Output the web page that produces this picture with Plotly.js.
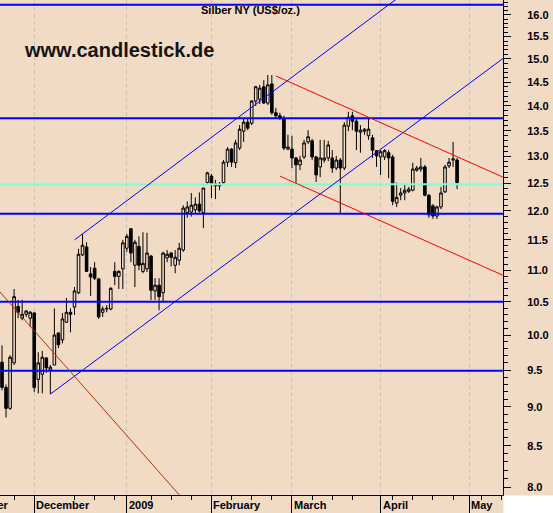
<!DOCTYPE html>
<html>
<head>
<meta charset="utf-8">
<script src="https://cdn.plot.ly/plotly-3.0.1.min.js"></script>
<style>
html,body{margin:0;padding:0;background:#ffffff;}
#chart{width:553px;height:513px;}
</style>
</head>
<body>
<div id="chart"></div>
<script>
// ---- data: Silber NY (US$/oz.), daily candles ----
const dates = [
'2008-11-19','2008-11-20','2008-11-21','2008-11-24','2008-11-25','2008-11-26','2008-11-27','2008-11-28',
'2008-12-01','2008-12-02','2008-12-03','2008-12-04','2008-12-05','2008-12-08','2008-12-09','2008-12-10','2008-12-11','2008-12-12',
'2008-12-15','2008-12-16','2008-12-17','2008-12-18','2008-12-19','2008-12-22','2008-12-23','2008-12-24','2008-12-25','2008-12-26',
'2008-12-29','2008-12-30','2008-12-31',
'2009-01-02','2009-01-05','2009-01-06','2009-01-07','2009-01-08','2009-01-09','2009-01-12','2009-01-13','2009-01-14','2009-01-15','2009-01-16',
'2009-01-19','2009-01-20','2009-01-21','2009-01-22','2009-01-23','2009-01-26','2009-01-27','2009-01-28','2009-01-29','2009-01-30',
'2009-02-02','2009-02-03','2009-02-04','2009-02-05','2009-02-06','2009-02-09','2009-02-10','2009-02-11','2009-02-12','2009-02-13',
'2009-02-16','2009-02-17','2009-02-18','2009-02-19','2009-02-20','2009-02-23','2009-02-24','2009-02-25','2009-02-26','2009-02-27',
'2009-03-02','2009-03-03','2009-03-04','2009-03-05','2009-03-06','2009-03-09','2009-03-10','2009-03-11','2009-03-12','2009-03-13',
'2009-03-16','2009-03-17','2009-03-18','2009-03-19','2009-03-20','2009-03-23','2009-03-24','2009-03-25','2009-03-26','2009-03-27',
'2009-03-30','2009-03-31',
'2009-04-01','2009-04-02','2009-04-03','2009-04-06','2009-04-07','2009-04-08','2009-04-09','2009-04-10','2009-04-13','2009-04-14',
'2009-04-15','2009-04-16','2009-04-17','2009-04-20','2009-04-21','2009-04-22','2009-04-23','2009-04-24','2009-04-27','2009-04-28'
];
const open = [
9.61,9.26,8.98,9.60,10.43,10.25,10.31,10.25,
10.33,9.37,9.44,9.67,9.50,9.57,10.03,9.93,10.19,10.34,
10.42,10.64,11.25,11.38,10.94,11.03,10.86,10.34,10.39,10.39,
10.98,10.90,11.02,
11.36,11.69,11.08,11.39,10.98,11.02,11.23,10.67,10.76,10.64,11.20,
11.28,11.08,11.16,11.33,11.97,11.98,12.02,12.12,11.97,12.51,
12.63,12.45,12.45,12.51,12.89,13.14,12.88,13.16,13.49,13.67,
13.65,14.10,14.14,14.40,14.06,14.46,13.86,13.80,13.75,13.14,
13.14,12.97,12.84,12.99,13.28,13.30,12.99,12.80,12.93,12.97,
12.97,12.78,12.93,12.78,13.59,13.80,13.69,13.47,13.49,13.40,
13.36,13.11,
12.99,12.99,13.07,12.99,12.14,12.28,12.32,12.35,12.37,12.74,
12.76,12.80,12.28,12.09,11.91,12.07,12.34,12.82,12.93,12.93
];
const high = [
9.85,9.30,9.71,10.70,10.53,10.53,10.37,10.36,
10.34,9.75,9.77,9.68,9.57,10.40,10.04,10.33,10.56,10.40,
10.73,11.35,11.60,11.46,11.05,11.13,10.87,10.43,10.45,10.73,
11.13,11.00,11.50,
11.60,11.70,11.50,11.56,11.63,11.62,11.25,10.87,10.87,11.30,11.33,
11.30,11.33,11.45,12.10,12.17,12.32,12.24,12.33,12.41,12.71,
12.67,12.56,12.52,12.93,13.18,13.16,13.32,13.61,13.75,13.75,
14.12,14.42,14.44,14.54,14.65,14.65,13.96,13.86,13.80,13.42,
13.40,12.99,13.01,13.32,13.51,13.34,13.01,13.32,13.32,13.30,
13.12,13.01,12.97,13.67,13.88,13.88,13.73,13.61,13.55,13.75,
13.42,13.12,
13.12,13.14,13.12,13.03,12.51,12.41,12.49,12.43,12.88,12.82,
12.97,12.84,12.30,12.12,12.09,12.43,12.84,12.97,13.28,12.97
];
const low = [
9.22,8.86,8.96,9.57,10.25,10.22,10.27,10.12,
9.20,9.18,9.18,9.46,9.17,9.57,9.81,9.88,10.18,10.04,
10.30,10.62,11.23,10.97,10.59,10.84,10.24,10.27,10.34,10.37,
10.76,10.70,10.70,
11.30,11.13,10.73,11.00,10.95,10.97,10.53,10.53,10.37,10.50,11.13,
11.06,10.95,11.08,11.30,11.88,11.90,11.95,11.97,11.70,12.47,
12.23,12.21,12.37,12.47,12.80,12.80,12.78,13.12,13.28,13.51,
13.61,14.00,14.04,14.04,14.02,13.82,13.75,13.71,13.12,13.12,
12.78,12.51,12.74,12.95,13.24,12.93,12.52,12.61,12.88,12.91,
12.69,12.74,11.95,12.74,13.49,13.51,13.12,13.07,13.42,13.32,
12.97,12.80,
12.65,12.93,12.59,12.10,12.07,12.19,12.19,12.32,12.35,12.71,
12.71,12.26,11.88,11.86,11.86,12.03,12.32,12.78,12.80,12.39
];
const close = [
9.26,8.98,9.68,10.58,10.34,10.31,10.36,10.34,
9.26,9.60,9.68,9.53,9.54,10.00,9.86,10.24,10.34,10.31,
10.67,11.26,11.41,10.98,10.89,10.87,10.27,10.39,10.40,10.71,
10.90,10.98,11.45,
11.56,11.28,11.46,11.08,11.11,11.28,10.68,10.76,10.58,11.28,11.26,
11.21,11.21,11.36,12.05,12.07,12.10,12.12,12.00,12.41,12.69,
12.49,12.49,12.49,12.89,13.14,12.89,13.26,13.53,13.67,13.55,
14.10,14.40,14.37,14.06,14.44,13.86,13.80,13.75,13.16,13.18,
12.97,12.84,12.93,13.26,13.38,12.99,12.65,12.97,12.97,13.22,
12.78,12.93,12.78,13.61,13.77,13.69,13.49,13.51,13.53,13.53,
13.12,13.01,
13.09,13.11,12.97,12.17,12.24,12.32,12.37,12.39,12.76,12.78,
12.80,12.28,11.93,11.91,12.07,12.32,12.80,12.89,12.95,12.51
];

// horizontal support / resistance levels (US$/oz.)
const blueLevels = [16.24, 13.75, 11.95, 10.50, 9.49];
const greenLevel = 12.48;

// trend lines: [date, price] pairs
const upChannelTop    = {x: ['2008-12-15', '2009-04-14'], y: [11.50, 16.75]};
const upChannelBottom = {x: ['2008-12-05', '2009-05-14'], y: [9.17, 15.05]};
const downChannelTop  = {x: ['2009-02-24', '2009-05-14'], y: [14.63, 12.59]};
const downChannelBot  = {x: ['2009-02-25', '2009-05-14'], y: [12.63, 10.90]};
const oldDownTrend    = {x: ['2008-11-17', '2009-01-27'], y: [10.76, 7.70]};

// axis labelling
const monthStarts = ['2008-12-01', '2009-01-02', '2009-02-02', '2009-03-02', '2009-04-01', '2009-05-01'];
const monthLabels = ['December', '2009', 'February', 'March', 'April', 'May'];
const prevMonthLabel = 'November';
const weekTicks = ['2008-11-24','2008-12-15','2008-12-22','2008-12-29','2009-01-12','2009-01-19','2009-01-26',
  '2009-02-09','2009-02-16','2009-02-23','2009-03-09','2009-03-16','2009-03-23','2009-04-06','2009-04-13',
  '2009-04-20','2009-04-27','2009-05-06','2009-05-13'];
const yTickVals = [8.0, 8.5, 9.0, 9.5, 10.0, 10.5, 11.0, 11.5, 12.0, 12.5, 13.0, 13.5, 14.0, 14.5, 15.0, 15.5, 16.0];
const yTickText = ['8.0','8.5','9.0','9.5','10.0','10.5','11.0','11.5','12.0','12.5','13.0','13.5','14.0','14.5','15.0','15.5','16.0'];
const holidays = ['2009-01-01'];
const chartTitle = 'Silber NY (US$/oz.)';
const watermark = 'www.candlestick.de';

// ---- presentation ----
const BG = '#F2DBC5';
const FONT = 'Liberation Sans, Arial, Helvetica, sans-serif';
const noon = d => d + ' 12:00';
const xRange = ['2008-11-19 00:00', '2009-05-13 21:36'];
const yRange = [Math.log10(7.907), Math.log10(16.356)];

const yMinor = [];
for (let k = 79; k <= 163; k++) { if (k % 5 !== 0) yMinor.push(k / 10); }

const traces = [];
traces.push({
  type: 'candlestick',
  x: dates.map(noon), open: open, high: high, low: low, close: close,
  increasing: {line: {color: '#000000', width: 1}, fillcolor: BG},
  decreasing: {line: {color: '#000000', width: 1}, fillcolor: '#000000'},
  whiskerwidth: 0, hoverinfo: 'skip', showlegend: false
});
function seg(obj, color, width) {
  traces.push({type: 'scatter', mode: 'lines', x: obj.x.map(noon), y: obj.y,
    line: {color: color, width: width}, hoverinfo: 'skip', showlegend: false});
}
blueLevels.forEach(v => traces.push({type: 'scatter', mode: 'lines', x: xRange, y: [v, v],
  line: {color: '#0000FF', width: 2}, hoverinfo: 'skip', showlegend: false}));
traces.push({type: 'scatter', mode: 'lines', x: xRange, y: [greenLevel, greenLevel],
  line: {color: '#7FFFD4', width: 2}, hoverinfo: 'skip', showlegend: false});
seg(upChannelTop, '#0000FF', 1);
seg(upChannelBottom, '#0000FF', 1);
seg(downChannelTop, '#FF0000', 1);
seg(downChannelBot, '#FF0000', 1);
seg(oldDownTrend, '#B4320A', 1);

const annotations = [];
monthStarts.forEach((d, i) => annotations.push({
  xref: 'x', yref: 'paper', x: noon(d), y: 0, xanchor: 'left', yanchor: 'top', yshift: -2,
  text: monthLabels[i], showarrow: false,
  font: {family: FONT, size: 11, color: '#000', weight: 'bold'}
}));
annotations.push({xref: 'paper', yref: 'paper', x: 0, y: 0, xanchor: 'right', yanchor: 'top', xshift: 11, yshift: -2,
  text: prevMonthLabel, showarrow: false, font: {family: FONT, size: 11, color: '#000', weight: 'bold'}});
annotations.push({xref: 'paper', yref: 'paper', x: 250 / 503, y: 1, xanchor: 'center', yanchor: 'top', yshift: -2,
  text: chartTitle, showarrow: false, font: {family: FONT, size: 11, color: '#000', weight: 'bold'}});
annotations.push({xref: 'paper', yref: 'paper', x: 22 / 503, y: 1, xanchor: 'left', yanchor: 'top', yshift: -37,
  text: watermark, showarrow: false, font: {family: FONT, size: 20, color: '#141414', weight: 'bold'}});

const layout = {
  width: 553, height: 513,
  margin: {l: 0, r: 50, t: 0, b: 18, pad: 0},
  paper_bgcolor: BG, plot_bgcolor: BG,
  showlegend: false, hovermode: false, boxgap: 0.08,
  xaxis: {
    type: 'date', range: xRange,
    rangebreaks: [{bounds: ['sat', 'mon']}, {values: holidays}],
    rangeslider: {visible: false},
    showline: true, linecolor: '#000', linewidth: 1,
    ticks: 'outside', ticklen: 18, tickcolor: '#000', tickwidth: 1,
    tickmode: 'array', tickvals: monthStarts.map(noon), showticklabels: false,
    showgrid: true, gridcolor: '#C4C4C4', gridwidth: 1, griddash: '4px,3px',
    minor: {tickmode: 'array', tickvals: weekTicks.map(noon), ticks: 'outside', ticklen: 4,
            tickcolor: '#000', tickwidth: 1, showgrid: false},
    zeroline: false, fixedrange: true
  },
  yaxis: {
    type: 'log', range: yRange, side: 'right',
    showline: true, linecolor: '#000', linewidth: 1,
    ticks: 'outside', ticklen: 7, tickcolor: '#000', tickwidth: 1,
    tickmode: 'array', tickvals: yTickVals, ticktext: yTickText,
    tickfont: {family: FONT, size: 11, color: '#000', weight: 'bold'},
    ticklabelstandoff: 14,
    minor: {tickmode: 'array', tickvals: yMinor, ticks: 'outside', ticklen: 4,
            tickcolor: '#000', tickwidth: 1, showgrid: false},
    showgrid: false, zeroline: false, fixedrange: true
  },
  shapes: [{type: 'rect', xref: 'paper', yref: 'paper', x0: 1.001, x1: 1.2, y0: -0.1, y1: -0.001,
            fillcolor: '#FFFFFF', line: {width: 0}, layer: 'above'}],
  annotations: annotations
};

Plotly.newPlot('chart', traces, layout, {displayModeBar: false, staticPlot: true});
</script>
</body>
</html>
